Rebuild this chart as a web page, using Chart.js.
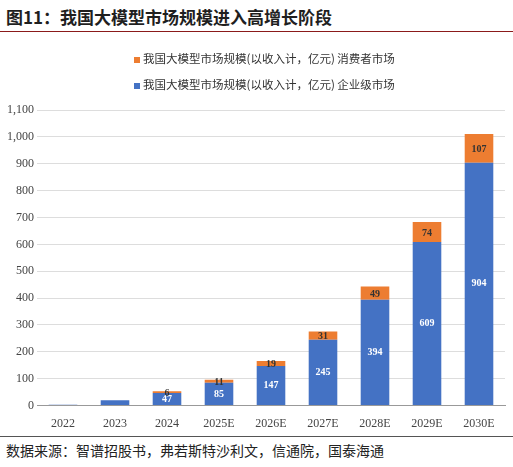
<!DOCTYPE html><html><head><meta charset="utf-8">
<script src="https://cdn.jsdelivr.net/npm/chart.js@4"></script>
<style>
body{margin:0;width:513px;height:467px;background:#fff;font-family:"Noto Sans CJK SC",serif;position:relative;overflow:hidden}
#t{position:absolute;left:6px;top:4px;font-size:17px;font-weight:bold;color:#1f1f1f}
#l1{position:absolute;left:0;right:0;top:31px;border-top:1.5px solid #8b1a1a}
#l2{position:absolute;left:0;right:0;top:436px;border-top:1px solid #555}
#s{position:absolute;left:6px;top:440px;font-size:14px;color:#222}
#c{position:absolute;left:0;top:36px;width:513px;height:398px}
.lg{position:absolute;left:134px;font-size:11.5px;color:#333;font-family:"Noto Sans CJK SC"}
.lg span{display:inline-block;width:6px;height:6px;margin-right:3px;vertical-align:middle}
</style></head><body>
<div id="t">图11：我国大模型市场规模进入高增长阶段</div><div id="l1"></div>
<div id="c"><canvas id="cv"></canvas></div>
<div class="lg" style="top:50px"><span style="background:#ED7D31"></span>我国大模型市场规模(以收入计，亿元) 消费者市场</div>
<div class="lg" style="top:76px"><span style="background:#4472C4"></span>我国大模型市场规模(以收入计，亿元) 企业级市场</div>
<div id="l2"></div><div id="s">数据来源：智谱招股书，弗若斯特沙利文，信通院，国泰海通</div>
<script>
const categories=["2022","2023","2024","2025E","2026E","2027E","2028E","2029E","2030E"];
const enterprise=[3,20,47,85,147,245,394,609,904];
const consumer=[0,0,6,11,19,31,49,74,107];
const showLabel=[false,false,true,true,true,true,true,true,true];
const lbl={id:'lbl',afterDatasetsDraw(ch){const c=ch.ctx;c.save();c.textAlign='center';c.textBaseline='middle';
ch.data.datasets.forEach((ds,di)=>{ch.getDatasetMeta(di).data.forEach((b,i)=>{if(!showLabel[i])return;
const v=ds.data[i];c.font='bold 10px "Liberation Serif"';c.fillStyle=di===0?'#fff':'#333';
const y=(b.y+b.base)/2;c.fillText(v,b.x,di===0?y:y+1);});});c.restore();}};
new Chart(document.getElementById('cv'),{type:'bar',data:{labels:categories,datasets:[
{label:'企业级市场',data:enterprise,backgroundColor:'#4472C4',barPercentage:0.55,categoryPercentage:1},
{label:'消费者市场',data:consumer,backgroundColor:'#ED7D31',barPercentage:0.55,categoryPercentage:1}]},
options:{responsive:true,maintainAspectRatio:false,animation:false,layout:{padding:{left:4,right:8,top:74,bottom:0}},
plugins:{legend:{display:false},tooltip:{enabled:false}},
scales:{x:{stacked:true,grid:{display:false},border:{color:'#999'},ticks:{color:'#444',font:{family:'Liberation Serif',size:12}}},
y:{stacked:true,min:0,max:1100,ticks:{stepSize:100,color:'#444',font:{family:'Liberation Serif',size:12}},grid:{color:'#ddd',drawTicks:false},border:{display:false}}}},plugins:[lbl]});
</script></body></html>
